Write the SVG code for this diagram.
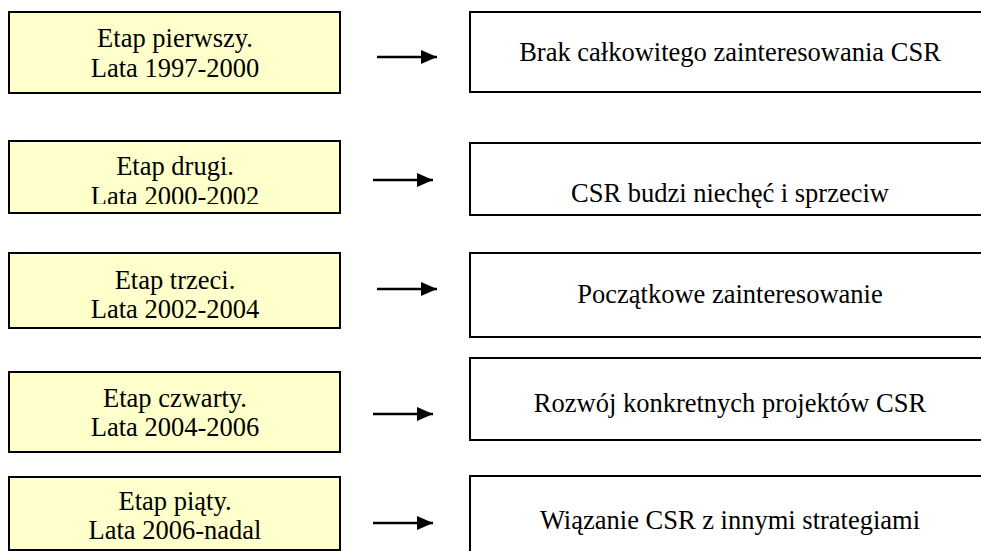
<svg xmlns="http://www.w3.org/2000/svg" width="981" height="551" viewBox="0 0 981 551">
<style>
.stage{fill:#FFFFCC;stroke:#000;stroke-width:2}
.result{fill:#FFFFFF;stroke:#000;stroke-width:2}
text{font-family:"Liberation Serif","Times New Roman",serif;font-size:26.5px;fill:#000;text-anchor:middle}
.arrow{stroke:#000;stroke-width:2.5;fill:none;marker-end:url(#ah)}
</style>
<defs>
<marker id="ah" markerUnits="userSpaceOnUse" markerWidth="18" markerHeight="15" refX="16" refY="7" orient="auto">
<path d="M0,0 L16,7 L0,14 z" fill="#000"/>
</marker>
<clipPath id="clip2"><rect x="9" y="141" width="331" height="63"/></clipPath>
</defs>
<rect width="981" height="551" fill="#FFFFFF"/>
<g id="stage1"><rect class="stage" x="9" y="12" width="331" height="81"/><text x="175" y="47">Etap pierwszy.</text><text x="175" y="77">Lata 1997-2000</text></g>
<g id="stage2"><rect class="stage" x="9" y="141" width="331" height="72"/><g clip-path="url(#clip2)"><text x="175" y="175">Etap drugi.</text><text x="175" y="205">Lata 2000-2002</text></g></g>
<g id="stage3"><rect class="stage" x="9" y="253" width="331" height="75"/><text x="175" y="289">Etap trzeci.</text><text x="175" y="318">Lata 2002-2004</text></g>
<g id="stage4"><rect class="stage" x="9" y="372" width="331" height="80"/><text x="175" y="407">Etap czwarty.</text><text x="175" y="436">Lata 2004-2006</text></g>
<g id="stage5"><rect class="stage" x="9" y="477" width="331" height="73"/><text x="175" y="510">Etap piąty.</text><text x="175" y="539">Lata 2006-nadal</text></g>
<g id="result1"><rect class="result" x="470" y="12" width="520" height="80"/><text x="730" y="61">Brak całkowitego zainteresowania CSR</text></g>
<g id="result2"><rect class="result" x="470" y="143" width="520" height="72"/><text x="730" y="202">CSR budzi niechęć i sprzeciw</text></g>
<g id="result3"><rect class="result" x="470" y="253" width="520" height="84"/><text x="730" y="303">Początkowe zainteresowanie</text></g>
<g id="result4"><rect class="result" x="470" y="358" width="520" height="82"/><text x="730" y="412">Rozwój konkretnych projektów CSR</text></g>
<g id="result5"><rect class="result" x="470" y="476" width="520" height="100"/><text x="730" y="529">Wiązanie CSR z innymi strategiami</text></g>
<g id="connectors">
<line class="arrow" x1="377" y1="57" x2="437" y2="57"/>
<line class="arrow" x1="373" y1="180" x2="433" y2="180"/>
<line class="arrow" x1="377" y1="289" x2="437" y2="289"/>
<line class="arrow" x1="373" y1="414" x2="433" y2="414"/>
<line class="arrow" x1="373" y1="523" x2="433" y2="523"/>
</g>
</svg>
